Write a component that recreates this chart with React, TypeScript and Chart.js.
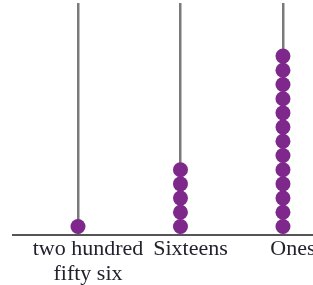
import React, { useEffect, useRef } from "react";
import { Chart, registerables } from "chart.js";

Chart.register(...registerables);

const categories: (string | string[])[] = [["two hundred", "fifty six"], "Sixteens", "Ones"];
const beadCounts = [1, 5, 13];

export default function App() {
  const ref = useRef<HTMLCanvasElement | null>(null);

  useEffect(() => {
    if (!ref.current) return;
    const beads = beadCounts.flatMap((n, i) =>
      Array.from({ length: n }, (_, k) => ({ x: i, y: k + 0.6 }))
    );
    const chart = new Chart(ref.current, {
      type: "scatter",
      data: {
        datasets: [
          {
            data: beads,
            pointRadius: 7.5,
            pointHoverRadius: 7.5,
            pointBackgroundColor: "#7e288c",
            pointBorderWidth: 0,
            borderWidth: 0,
            clip: false as any,
          },
        ],
      },
      options: {
        animation: false,
        responsive: false,
        events: [],
        layout: { autoPadding: false, padding: { left: 13, right: 0, top: 3, bottom: 0 } },
        plugins: { legend: { display: false }, tooltip: { enabled: false } },
        scales: {
          x: {
            type: "linear",
            min: -0.634,
            max: 2.293,
            afterBuildTicks: (axis: any) => {
              axis.ticks = categories.map((_, i) => ({ value: i }));
            },
            afterFit: (axis: any) => {
              axis.paddingLeft = 0;
              axis.paddingRight = 0;
              axis.height = 50;
            },
            grid: {
              color: "#7a7a7a",
              lineWidth: 2.5,
              drawTicks: false,
            },
            border: { display: true, color: "#555555", width: 2 },
            ticks: {
              autoSkip: false,
              maxRotation: 0,
              padding: 2,
              labelOffset: 10,
              color: "#22222e",
              font: { family: "'Liberation Serif', serif", size: 22, lineHeight: 1.14 },
              callback: (v: any) => categories[Math.round(Number(v))] as any,
            },
          },
          y: {
            type: "linear",
            display: false,
            min: 0,
            max: 16.34,
          },
        },
      },
    });
    return () => chart.destroy();
  }, []);

  return (
    <canvas
      ref={ref}
      width={313}
      height={285}
      style={{ position: "absolute", left: 0, top: 0, width: 313, height: 285, display: "block" }}
    />
  );
}
